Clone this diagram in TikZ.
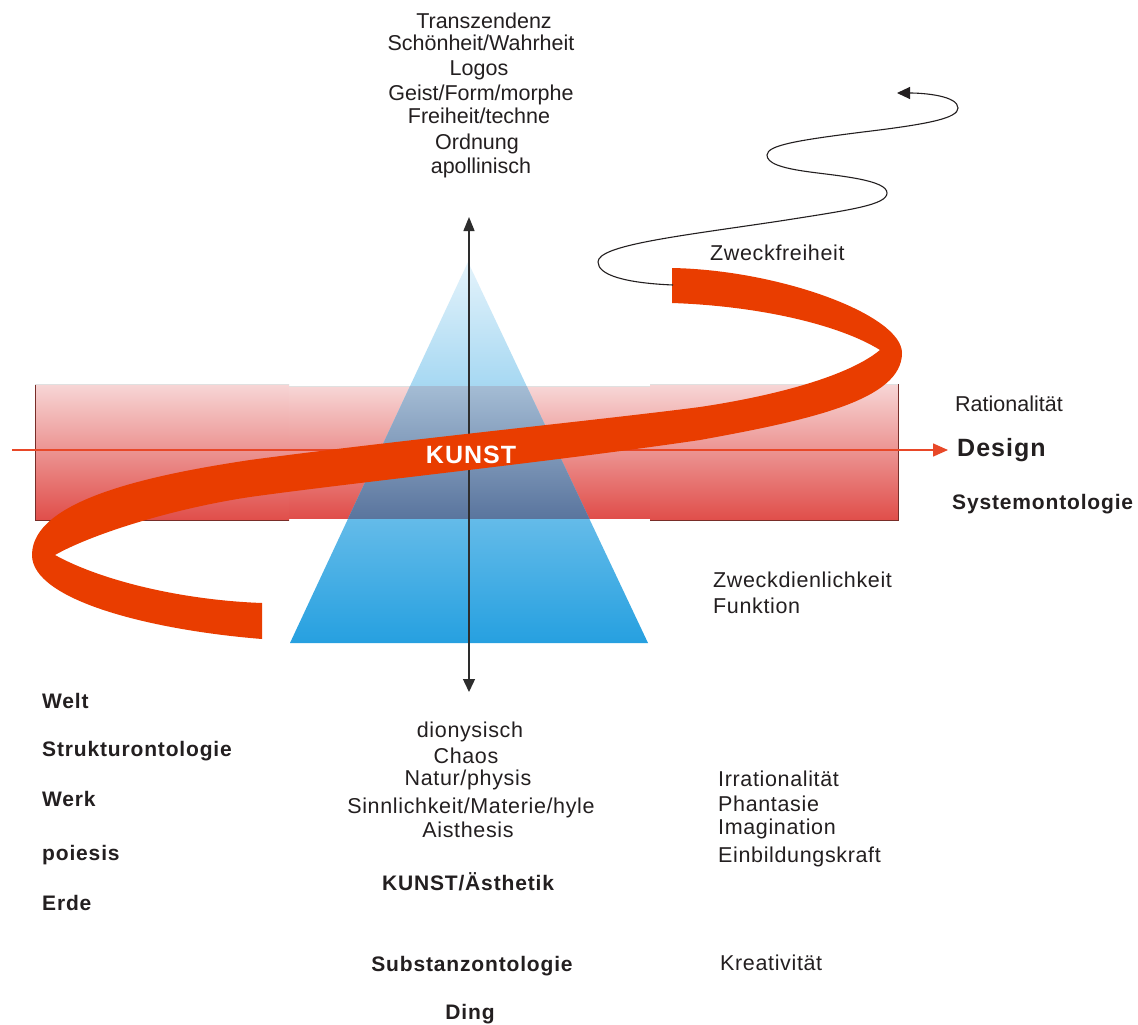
\documentclass[tikz,border=0pt]{standalone}
\usepackage{fontspec}
\setmainfont{Liberation Sans}
\newfontfamily\boldsp[LetterSpace=4]{Liberation Sans}
\newfontfamily\regsp[LetterSpace=3]{Liberation Sans}
\usetikzlibrary{arrows.meta}
\definecolor{txt}{RGB}{35,31,32}
\definecolor{ribbonred}{RGB}{233,61,0}
\definecolor{bandtop}{RGB}{247,214,214}
\definecolor{bandbot}{RGB}{224,78,74}
\definecolor{bandedge}{RGB}{120,45,40}
\definecolor{tritop}{RGB}{228,243,251}
\definecolor{tribot}{RGB}{38,160,224}
\definecolor{ovtop}{RGB}{164,188,212}
\definecolor{ovbot}{RGB}{90,117,158}
\definecolor{hlinecol}{RGB}{232,72,40}
\definecolor{axiscol}{RGB}{45,45,45}
\tikzset{
  reg/.style={font=\fontsize{21.5}{25}\selectfont, inner sep=0pt, text=txt},
  regs/.style={font=\regsp\fontsize{21.5}{25}\selectfont, inner sep=0pt, text=txt},
  bld/.style={font=\boldsp\bfseries\fontsize{21}{25}\selectfont, inner sep=0pt, text=txt},
  bandsec/.style={top color=bandtop, bottom color=bandbot},
  ribbon/.style={fill=ribbonred},
  axisline/.style={draw=axiscol, line width=1.4pt, {Triangle[length=14pt,width=11pt]}-{Triangle[length=13pt,width=12pt]}},
  hline/.style={draw=hlinecol, line width=1.5pt, -{Triangle[length=15pt,width=13pt]}},
  spiral/.style={draw=txt, line width=1.1pt, -{Triangle[length=13pt,width=12pt]}},
}
\begin{document}
\begin{tikzpicture}[x=1pt,y=-1pt]
\useasboundingbox (0,0) rectangle (1138,1025);
\fill[white] (0,0) rectangle (1138,1025);

% band sections
\shade[bandsec] (35,384) rectangle (289,520);
\shade[bandsec] (289,386) rectangle (650,518);
\shade[bandsec] (650,384) rectangle (898,520);
\draw[bandedge, line width=1pt] (35,384) -- (35,520) -- (289,520);
\draw[bandedge, line width=1pt] (650,520) -- (898,520) -- (898,384);
\draw[black!12, line width=0.8pt] (35,384) -- (289,384) (289,386) -- (650,386) (650,384) -- (898,384);

% triangle
\shade[top color=tritop, bottom color=tribot] (468,262) -- (648,643) -- (290,643) -- cycle;
\begin{scope}
  \clip (468,262) -- (648,643) -- (290,643) -- cycle;
  \shade[top color=ovtop, bottom color=ovbot] (289,386) rectangle (650,518);
\end{scope}

% horizontal red arrow
\coordinate (h0) at (12,450);
\coordinate (h1) at (948,450);
\draw[hline] (h0) -- (h1);

% vertical axis
\coordinate (vtop) at (469,217);
\coordinate (vbot) at (469,692);
\draw[axisline] (vtop) -- (vbot);

% ribbon
\fill[ribbon] (262,639) .. controls (150,630) and (32,600) .. (32,555)
 .. controls (32,500) and (150,475) .. (250,460)
 .. controls (400,440) and (600,420) .. (700,407)
 .. controls (780,395) and (850,375) .. (880,350)
 .. controls (840,325) and (760,306) .. (672,303)
 -- (672,268)
 .. controls (780,270) and (902,315) .. (902,353)
 .. controls (902,400) and (810,420) .. (700,440)
 .. controls (550,462) and (350,483) .. (250,497)
 .. controls (170,509) and (90,535) .. (55,555)
 .. controls (100,580) and (180,600) .. (262,603) -- cycle;
\node[anchor=base, inner sep=0pt, text=white, font=\boldsp\bfseries\fontsize{25}{30}\selectfont] (kunst) at (471,463) {KUNST};

% thin spiral
\coordinate (s0) at (673,285);
\coordinate (s1) at (598,262);
\coordinate (s2) at (780,221);
\coordinate (s3) at (887,193);
\coordinate (s4) at (810,172);
\coordinate (s5) at (767,155);
\coordinate (s6) at (863,132);
\coordinate (s7) at (958,108);
\coordinate (s8) at (897,93);
\draw[spiral] (s0) .. controls (625,283) and (598,275) .. (s1)
  .. controls (598,245) and (680,236) .. (s2)
  .. controls (850,210) and (887,205) .. (s3)
  .. controls (887,180) and (840,176) .. (s4)
  .. controls (780,168) and (767,163) .. (s5)
  .. controls (767,145) and (800,140) .. (s6)
  .. controls (930,124) and (958,118) .. (s7)
  .. controls (958,96) and (925,93) .. (s8);

% top text
\node[reg, anchor=base] (t1) at (484,29) {Transzendenz};
\node[reg, anchor=base] (t2) at (481,51) {Schönheit/Wahrheit};
\node[reg, anchor=base] (t3) at (479,75) {Logos};
\node[reg, anchor=base] (t4) at (481,100) {Geist/Form/morphe};
\node[reg, anchor=base] (t5) at (479,123) {Freiheit/techne};
\node[reg, anchor=base] (t6) at (477,149) {Ordnung};
\node[reg, anchor=base] (t7) at (481,173) {apollinisch};

% bottom centre text
\node[regs, anchor=base] (b1) at (470,737) {dionysisch};
\node[regs, anchor=base] (b2) at (466,763) {Chaos};
\node[regs, anchor=base] (b3) at (468,785) {Natur/physis};
\node[regs, anchor=base] (b4) at (471,813) {Sinnlichkeit/Materie/hyle};
\node[regs, anchor=base] (b5) at (468,837) {Aisthesis};
\node[bld, anchor=base] (b6) at (468,890) {KUNST/Ästhetik};
\node[bld, anchor=base] (b7) at (472,971) {Substanzontologie};
\node[bld, anchor=base] (b8) at (470,1019) {Ding};

% left text
\node[bld, anchor=base west] (l1) at (42,708) {Welt};
\node[bld, anchor=base west] (l2) at (42,756) {Strukturontologie};
\node[bld, anchor=base west] (l3) at (42,806) {Werk};
\node[bld, anchor=base west] (l4) at (42,860) {poiesis};
\node[bld, anchor=base west] (l5) at (42,910) {Erde};

% right text
\node[regs, anchor=base west] (r0) at (710,260) {Zweckfreiheit};
\node[reg, anchor=base west] (r1) at (955,411) {Rationalität};
\node[anchor=base west, inner sep=0pt, text=txt, font=\boldsp\bfseries\fontsize{25}{30}\selectfont] (r2) at (957,456) {Design};
\node[bld, anchor=base west] (r3) at (952,509) {Systemontologie};
\node[regs, anchor=base west] (r4) at (713,587) {Zweckdienlichkeit};
\node[regs, anchor=base west] (r5) at (713,613) {Funktion};
\node[regs, anchor=base west] (r6) at (718,786) {Irrationalität};
\node[regs, anchor=base west] (r7) at (718,811) {Phantasie};
\node[regs, anchor=base west] (r8) at (718,834) {Imagination};
\node[regs, anchor=base west] (r9) at (718,862) {Einbildungskraft};
\node[regs, anchor=base west] (r10) at (720,970) {Kreativität};
\end{tikzpicture}
\end{document}
